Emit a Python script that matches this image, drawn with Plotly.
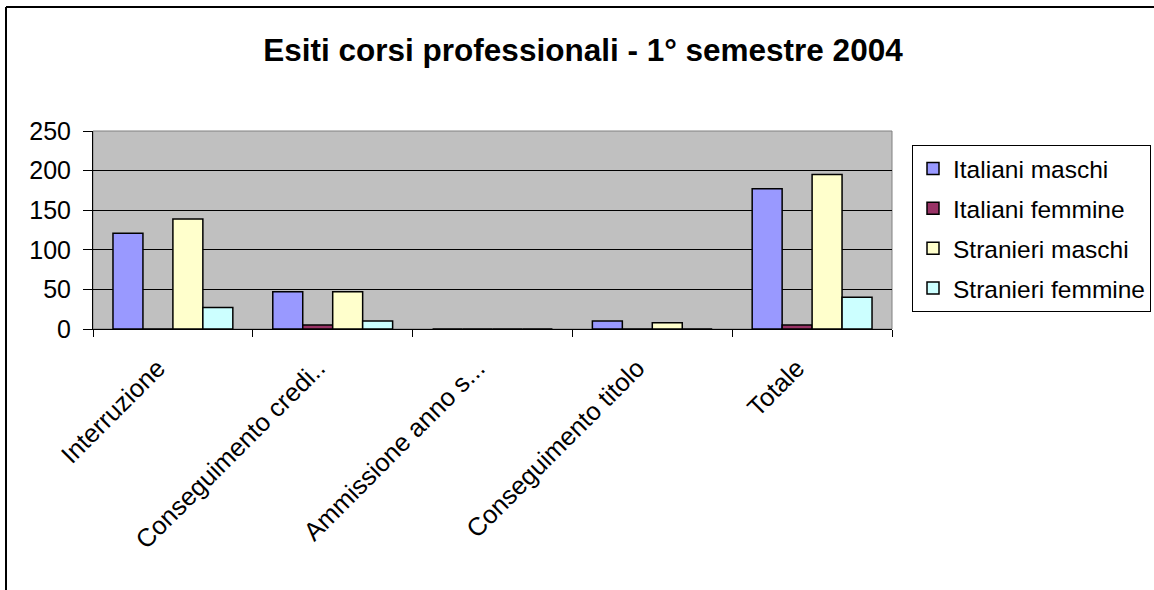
import plotly.graph_objects as go

categories = ["Interruzione", "Conseguimento credi..", "Ammissione anno s...", "Conseguimento titolo", "Totale"]
italiani_maschi = [121, 47, 0, 10, 177]
italiani_femmine = [0, 5, 0, 0, 5]
stranieri_maschi = [139, 47, 0, 8, 195]
stranieri_femmine = [27, 10, 0, 0, 40]
series_names = ["Italiani maschi", "Italiani femmine", "Stranieri maschi", "Stranieri femmine"]
series_colors = ["#9999FF", "#993366", "#FFFFCC", "#CCFFFF"]
y_ticks = [0, 50, 100, 150, 200, 250]

fig = go.Figure()
for name, vals, col in zip(series_names,
                           [italiani_maschi, italiani_femmine, stranieri_maschi, stranieri_femmine],
                           series_colors):
    fig.add_trace(go.Bar(
        x=categories, y=vals, name=name, legendgroup=name,
        marker=dict(color=col, line=dict(color="black", width=1.5)),
    ))

W, H = 1154, 590
L, R, T, B = 93, 262, 131, 261
pw = W - L - R
ph = H - T - B
FS = 25

fig.update_layout(
    width=W, height=H,
    margin=dict(l=L, r=R, t=T, b=B, pad=0, autoexpand=False),
    paper_bgcolor="white",
    plot_bgcolor="#C0C0C0",
    font=dict(family="Liberation Sans, Arial, sans-serif", size=FS, color="black"),
    title=dict(text="<b>Esiti corsi professionali - 1° semestre 2004</b>",
               x=583 / W, xanchor="center", y=1 - 50 / H, yanchor="middle",
               font=dict(size=31.5, color="black")),
    barmode="group", bargap=0.25, bargroupgap=0,
    showlegend=True,
    legend=dict(x=(912 - L) / pw, xanchor="left", y=(H - B - 145) / ph, yanchor="top",
                bordercolor="black", borderwidth=1, bgcolor="white",
                font=dict(size=FS - 0.5), tracegroupgap=5, traceorder="grouped",
                itemwidth=30),
    xaxis=dict(showgrid=False, ticks="outside", tickson="boundaries", ticklen=7,
               tickcolor="black", tickangle=-45, showline=True, linecolor="black",
               linewidth=1, tickfont=dict(size=FS + 0.5), automargin=False,
               ticklabelstandoff=13, ticklabelshift=-15),
    yaxis=dict(range=[0, 250], tickvals=y_ticks, ticks="outside", ticklen=9,
               tickcolor="black", showgrid=True, gridcolor="black", gridwidth=1,
               showline=True, linecolor="black", linewidth=1, zeroline=False,
               tickfont=dict(size=FS), ticklabelstandoff=7, automargin=False),
)

# plot-area border (gray) on top and right
fig.add_shape(type="rect", xref="paper", yref="paper", x0=0, x1=1, y0=0, y1=1,
              line=dict(color="#808080", width=1), layer="below")
# outer chart frame
fx = (6 - L) / pw
fy = (H - B - 7) / ph
fig.add_shape(type="line", xref="paper", yref="paper",
              x0=fx, x1=fx, y0=fy, y1=-(B + 10) / ph,
              line=dict(color="black", width=2))
fig.add_shape(type="line", xref="paper", yref="paper",
              x0=fx, x1=(W + 10 - L) / pw, y0=fy, y1=fy,
              line=dict(color="black", width=2))

fig.write_html("out.html", config={"displayModeBar": False},
               post_script="document.body.style.margin='0';")
